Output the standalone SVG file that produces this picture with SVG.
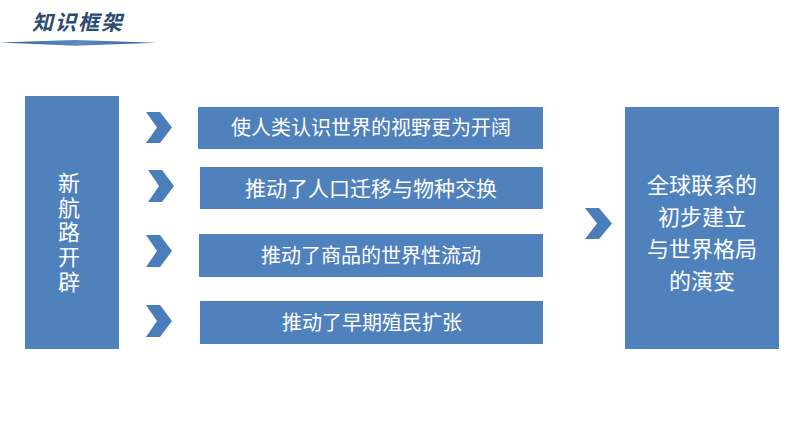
<svg xmlns="http://www.w3.org/2000/svg" width="794" height="447" viewBox="0 0 794 447">
<defs>
<style>
.box{fill:#4f81bd;}
.chev{fill:#4a7eba;}
.t{font-family:"Liberation Sans","Noto Sans CJK SC",sans-serif;fill:#ffffff;text-anchor:middle;}
.title{font-family:"Noto Sans CJK SC",serif;font-weight:bold;font-style:italic;fill:#2d4b72;font-size:21px;letter-spacing:2px;}
</style>
<linearGradient id="ul" x1="0" y1="0" x2="1" y2="0">
<stop offset="0" stop-color="#2f5f9c"/>
<stop offset="0.5" stop-color="#5b8ac4"/>
<stop offset="1" stop-color="#2f5f9c"/>
</linearGradient>
</defs>
<rect width="794" height="447" fill="#ffffff"/>
<g id="header">
<text class="title" x="32" y="30">知识框架</text>
<polygon points="0,42.5 75,40 156,42.8 75,45.8" fill="url(#ul)"/>
</g>
<g id="connectors">
<polygon class="chev" points="146,112 160,112 172,127.5 160,143 146,143 157,127.5"/>
<polygon class="chev" points="148,170 162,170 174,186 162,202 148,202 159,186"/>
<polygon class="chev" points="146,235 160,235 172,251 160,267 146,267 157,251"/>
<polygon class="chev" points="146,305 160,305 172,321 160,337 146,337 157,321"/>
<polygon class="chev" points="585,208 599,208 612,223.5 599,239 585,239 597,223.5"/>
</g>
<g id="node-left">
<rect class="box" x="25" y="96" width="94" height="253"/>
<text class="t" font-size="22" x="69" y="191">新</text>
<text class="t" font-size="22" x="69" y="216">航</text>
<text class="t" font-size="22" x="69" y="240">路</text>
<text class="t" font-size="22" x="69" y="265">开</text>
<text class="t" font-size="22" x="69" y="290">辟</text>
</g>
<g id="node-1">
<rect class="box" x="198" y="107" width="345" height="42"/>
<text class="t" font-size="20" x="371" y="135">使人类认识世界的视野更为开阔</text>
</g>
<g id="node-2">
<rect class="box" x="200" y="167" width="343" height="42"/>
<text class="t" font-size="21" x="371" y="195.5">推动了人口迁移与物种交换</text>
</g>
<g id="node-3">
<rect class="box" x="199" y="234" width="344" height="43"/>
<text class="t" font-size="20" x="371" y="262.5">推动了商品的世界性流动</text>
</g>
<g id="node-4">
<rect class="box" x="200" y="301" width="343" height="43"/>
<text class="t" font-size="20" x="372" y="329.5">推动了早期殖民扩张</text>
</g>
<g id="node-right">
<rect class="box" x="625" y="107" width="154" height="242"/>
<text class="t" font-size="22" x="702" y="193">全球联系的</text>
<text class="t" font-size="22" x="702" y="225">初步建立</text>
<text class="t" font-size="22" x="702" y="257">与世界格局</text>
<text class="t" font-size="22" x="702" y="289">的演变</text>
</g>
</svg>
